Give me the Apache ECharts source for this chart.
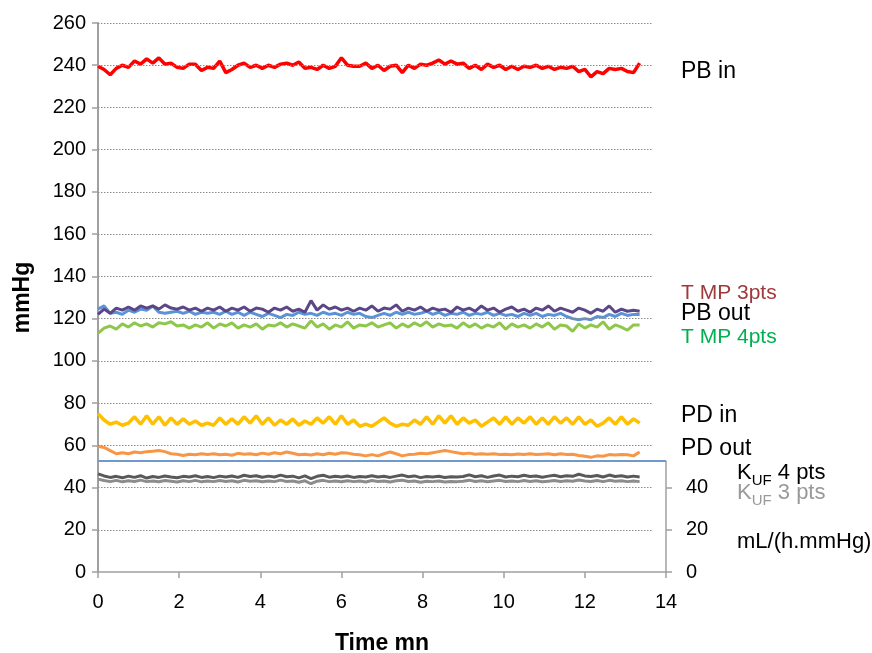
<!DOCTYPE html>
<html><head><meta charset="utf-8">
<script src="https://cdn.jsdelivr.net/npm/echarts@6/dist/echarts.min.js"></script>
<style>html,body{margin:0;padding:0;background:#fff}#c{width:872px;height:653px}</style>
</head><body><div id="c"></div>
<script>
// Time (minutes)
const time = [0,0.15,0.3,0.45,0.6,0.75,0.9,1.05,1.2,1.35,
1.5,1.65,1.8,1.95,2.1,2.25,2.4,2.55,2.7,2.85,
3,3.15,3.3,3.45,3.6,3.75,3.9,4.05,4.2,4.35,
4.5,4.65,4.8,4.95,5.1,5.25,5.4,5.55,5.7,5.85,
6,6.15,6.3,6.45,6.6,6.75,6.9,7.05,7.2,7.35,
7.5,7.65,7.8,7.95,8.1,8.25,8.4,8.55,8.7,8.85,
9,9.15,9.3,9.45,9.6,9.75,9.9,10.05,10.2,10.35,
10.5,10.65,10.8,10.95,11.1,11.25,11.4,11.55,11.7,11.85,
12,12.15,12.3,12.45,12.6,12.75,12.9,13.05,13.2,13.35];

const pbIn = [239.5,238,235.5,238.5,240,239,242,240.5,243,241,
243.5,240.5,241,239,238.5,240.5,240.5,237.5,239,238.5,
242,236.5,238,240,241,239,240,238.5,240,239,
240.5,241,240,241.5,238.5,239,238,240,238.5,239.5,
243.5,240,239.5,239.5,241,238.5,240,237.5,239.5,240,
236.5,240,238.5,240.5,240,241,242.5,240.5,242,240.5,
241,238.5,240,238,240.5,239,240,238,239.5,238,
239.5,239,240,238.5,239.5,238,239,238.5,239.5,237,
238,234.5,237,236,238.5,238,238.5,237,236.5,241];

const tmp3 = [122,124.5,122.5,125,124,125.5,124,126,125,126,
124.5,126.5,125,124.5,125.5,124,125,123.5,125,124,
125.5,123.5,125,124,125.5,123.5,125,124.5,123,125,
124,125.5,123.5,124.5,123,128.5,124,126.5,124.5,125.5,
124,125,123.5,125,124,126,123.5,125,124.5,126.5,
123.5,125,124,125.5,123.5,125,124,124.5,123,125.5,
124,125,123.5,126,124,125,123,124.5,125.5,123.5,
124.5,123,125,124,126,123.5,125,124,123,125,
124,122.5,124.5,123.5,126,123,124.5,123.5,124,123.5];

const pbOut = [124.5,126,122.5,123,122,124,123,124.5,124,126,
123,122.5,123,123.5,122.5,123.5,122,123,122.5,123,
122,123.5,122,123,121.5,123,122,121,122.5,121.5,
120.5,122,121.5,123,122,122.5,121.5,123,122,122.5,
121.5,123,122,122.5,121,120.5,121.5,122.5,121.5,123,
122,123,122,122.5,123.5,122,123,121.5,122.5,122,
123,121.5,122.5,122,123,121.5,122.5,121.5,122,121,
122.5,121.5,122.5,121,122,121.5,122.5,121,120,119.5,
120,119.5,121,120.5,122,121,122.5,121.5,122,122];

const tmp4 = [113,115.5,116.5,115,117.5,116,118,116.5,117.5,116,
118,117.5,118.5,116.5,117,115.5,117,116,118,115.5,
117.5,116.5,118,115.5,117,116,117.5,115,117,116.5,
118,116,117.5,116.5,115.5,119,116,117.5,115,117,
116,118.5,115.5,117,116.5,118,116,117,118,115.5,
117.5,116,118,116.5,118.5,116,117.5,116.5,117,115.5,
118,116,117.5,115.5,117,116,118,115,117.5,116,
117,115.5,117.5,116,118,115,117,116.5,114,117.5,
115.5,117,116,118.5,115,117,116,114.5,117,117];

const pdIn = [75,72,70,71,69.5,70.5,73.5,70,74,70,
73.5,69.5,73,70,72.5,70,71.5,69.5,70.5,69.5,
73,70,72.5,70,73.5,70.5,74,70,73,69.5,
72,70,72.5,69.5,71.5,70,73,70.5,73.5,70,
74,70,72,69,70,69,71,73,70.5,69,
70,69.5,72,70,73.5,70,74,70.5,74,70,
73,70.5,72,69,71,73,70,73.5,70,73,
70.5,73.5,70,73,70,73.5,70.5,73,70,73.5,
70,72,69,70.5,73,70,73.5,70,72.5,70.5];

const pdOut = [59.5,59,57.5,56,56.5,56,56.8,56.5,57,57.2,
57.5,57,56,55.8,55.2,55.8,55.5,56,55.6,56,
55.5,55.8,55.3,56.2,55.8,56,55.5,56.3,55.8,56.5,
56,56.8,56.2,55.5,55.8,55.4,56,55.5,56.2,55.8,
56.5,56.3,55.8,55.5,55,55.6,55,56,56.8,56,
55,55.6,55.8,56.2,56,56.5,57,57.5,57,56.5,
56,56.3,55.8,56,55.8,56,55.7,55.8,55.5,55.9,
55.6,56,55.6,55.8,56,55.5,56,55.6,55.8,55.2,
54.8,54.3,55,54.8,55.6,55.4,55.6,55.5,55,56.8];

const kuf4 = [46.5,45.5,44.8,45.3,44.6,45.4,44.8,45.6,44.5,45.2,
44.8,45.5,45,44.6,45.3,45,45.6,44.8,45.2,44.7,
45.4,45,45.5,44.8,45.8,45.2,45.6,44.9,45.4,45,
45.9,45.1,45.4,44.6,45.5,44.2,45.3,45.8,44.9,45.3,
45,45.5,44.8,45.2,45,45.6,45,45.3,44.8,45.4,
45.9,45.1,45.5,44.7,45.2,45,45.3,44.8,45.1,45,
45.2,46,45.1,45.6,44.8,45.5,45.9,45,45.4,45.1,
45.8,45.2,45.5,44.9,45.4,45.8,45.1,45.6,45.3,46.3,
45.5,45.2,45.7,45,45.9,45.2,45.6,45,45.4,45];

const kuf3 = [44,43.3,42.8,43.4,42.7,43.2,42.9,43.5,42.8,43.1,
42.7,43.3,43,42.6,43.2,42.8,43.4,42.7,43.1,42.8,
43.3,42.9,43.2,42.6,43.4,43,43.2,42.7,43.1,42.8,
43.5,42.9,43.1,42.5,43.2,41.8,43,43.4,42.8,43.1,
42.7,43.2,42.8,43.1,42.6,43.3,42.9,43.1,42.6,43.2,
43.5,42.9,43.1,42.5,43,42.8,43.1,42.6,42.9,42.8,
43,43.5,42.9,43.2,42.7,43.1,43.4,42.9,43.1,42.8,
43.3,42.9,43.2,42.7,43,43.3,42.9,43.2,43,43.6,
43.1,42.9,43.3,42.8,43.4,43,43.2,42.8,43.1,42.8];

const gridValues = [20,40,60,80,100,120,140,160,180,200,220,240,260];
const gridEndX = 13.68;
const kufAxisTop = 52.5;

const FONT = "'Liberation Sans', Arial, Helvetica, sans-serif";
const pair = v => time.map((t, i) => [t, v[i]]);

const G_LEFT = 98, G_RIGHT = 206, G_TOP = 23, G_BOTTOM = 81;
const H = 653 - G_TOP - G_BOTTOM;
const rightTop = G_TOP + H * (260 - kufAxisTop) / 260;

function line(name, data, color, width) {
  return { name, type: 'line', xAxisIndex: 0, yAxisIndex: 0, data: pair(data), showSymbol: false,
    symbol: 'none', lineStyle: { color, width }, itemStyle: { color }, silent: true };
}

function kufText(n) {
  return '{k|K}{s|UF}{k| ' + n + ' pts}';
}

const chart = echarts.init(document.getElementById('c'), null, { renderer: 'canvas' });
chart.setOption({
  animation: false,
  backgroundColor: '#fff',
  grid: [
    { left: G_LEFT, right: G_RIGHT, top: G_TOP, bottom: G_BOTTOM, containLabel: false, outerBoundsMode: 'none' },
    { left: G_LEFT, right: G_RIGHT, top: rightTop, bottom: G_BOTTOM, containLabel: false, outerBoundsMode: 'none' }
  ],
  xAxis: [
    { type: 'value', gridIndex: 0, min: 0, max: 14, interval: 2,
      axisLine: { show: true, lineStyle: { color: '#a0a0a0', width: 1.5 } },
      axisTick: { show: true, length: 6, lineStyle: { color: '#a0a0a0', width: 1.5 } },
      axisLabel: { color: '#000', fontSize: 20, fontFamily: FONT, margin: 20 },
      splitLine: { show: false },
      name: 'Time mn', nameLocation: 'middle', nameGap: 60,
      nameTextStyle: { color: '#000', fontSize: 23, fontWeight: 'bold', fontFamily: FONT } },
    { type: 'value', gridIndex: 1, min: 0, max: 14, show: false }
  ],
  yAxis: [
    { type: 'value', gridIndex: 0, min: 0, max: 260, interval: 20,
      axisLine: { show: true, onZero: false, lineStyle: { color: '#a0a0a0', width: 2 } },
      axisTick: { show: true, length: 6, lineStyle: { color: '#a0a0a0', width: 1.5 } },
      axisLabel: { color: '#000', fontSize: 20, fontFamily: FONT, margin: 12 },
      splitLine: { show: false },
      name: 'mmHg', nameLocation: 'middle', nameRotate: 90, nameGap: 64,
      nameTextStyle: { color: '#000', fontSize: 23, fontWeight: 'bold', fontFamily: FONT } },
    { type: 'value', gridIndex: 1, position: 'right', min: 0, max: kufAxisTop, interval: 20,
      axisLine: { show: true, onZero: false, lineStyle: { color: '#a0a0a0', width: 1.5 } },
      axisTick: { show: true, length: 6, lineStyle: { color: '#a0a0a0', width: 1.5 } },
      axisLabel: { color: '#000', fontSize: 20, fontFamily: FONT, margin: 20, showMaxLabel: false },
      splitLine: { show: false } }
  ],
  series: [
    { type: 'line', xAxisIndex: 0, yAxisIndex: 0, data: [], silent: true,
      markLine: { silent: true, symbol: 'none', animation: false, label: { show: false },
        lineStyle: { color: '#8c8c8c', width: 1, type: [1.5, 1.5] },
        data: gridValues.map(v => [{ coord: [0, v] }, { coord: [gridEndX, v] }]).concat([
          [{ coord: [0, kufAxisTop], lineStyle: { color: '#6f98cc', width: 2, type: 'solid' } },
           { coord: [14, kufAxisTop] }]
        ]) } },
    line('PB in', pbIn, '#ff0000', 3.5),
    line('PB out', pbOut, '#5a93d8', 3),
    line('T MP 3pts', tmp3, '#5b4687', 3),
    line('T MP 4pts', tmp4, '#8dc84a', 3),
    line('PD in', pdIn, '#ffc000', 3.5),
    line('PD out', pdOut, '#f79646', 3),
    line('KUF 3 pts', kuf3, '#8c8c8c', 3),
    line('KUF 4 pts', kuf4, '#595959', 3)
  ],
  graphic: [
    { type: 'text', x: 681, y: 72, style: { text: 'PB in', fill: '#000', fontSize: 23, fontFamily: FONT, verticalAlign: 'middle' } },
    { type: 'text', x: 681, y: 293, style: { text: 'T MP 3pts', fill: '#a0393c', fontSize: 21, fontFamily: FONT, verticalAlign: 'middle' } },
    { type: 'text', x: 681, y: 314, style: { text: 'PB out', fill: '#000', fontSize: 23, fontFamily: FONT, verticalAlign: 'middle' } },
    { type: 'text', x: 681, y: 337, style: { text: 'T MP 4pts', fill: '#00b050', fontSize: 21, fontFamily: FONT, verticalAlign: 'middle' } },
    { type: 'text', x: 681, y: 416, style: { text: 'PD in', fill: '#000', fontSize: 23, fontFamily: FONT, verticalAlign: 'middle' } },
    { type: 'text', x: 681, y: 449, style: { text: 'PD out', fill: '#000', fontSize: 23, fontFamily: FONT, verticalAlign: 'middle' } },
    { type: 'text', x: 737, y: 475, style: { text: kufText(4), fill: '#000', fontFamily: FONT, verticalAlign: 'middle',
        rich: { k: { fontSize: 22, fontFamily: FONT, fill: '#000', verticalAlign: 'bottom', padding: [0, 0, 5, 0] },
                s: { fontSize: 15, fontFamily: FONT, fill: '#000', verticalAlign: 'bottom' } } } },
    { type: 'text', x: 737, y: 495, style: { text: kufText(3), fill: '#999', fontFamily: FONT, verticalAlign: 'middle',
        rich: { k: { fontSize: 22, fontFamily: FONT, fill: '#999', verticalAlign: 'bottom', padding: [0, 0, 5, 0] },
                s: { fontSize: 15, fontFamily: FONT, fill: '#999', verticalAlign: 'bottom' } } } },
    { type: 'text', x: 737, y: 542, style: { text: 'mL/(h.mmHg)', fill: '#000', fontSize: 22, fontFamily: FONT, verticalAlign: 'middle' } }
  ]
});
</script>
</body></html>
